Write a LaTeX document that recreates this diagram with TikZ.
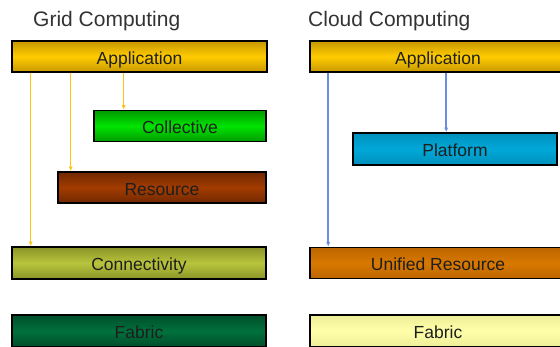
\documentclass[tikz,border=0pt]{standalone}
\usepackage{fontspec}
\setmainfont{Liberation Sans}
\usetikzlibrary{arrows.meta}
\definecolor{txt}{HTML}{1E1E1E}
\definecolor{ttl}{HTML}{333333}
\definecolor{appM}{HTML}{FFCC00}\definecolor{appD}{HTML}{C89800}
\definecolor{colM}{HTML}{00E400}\definecolor{colD}{HTML}{009A00}
\definecolor{resM}{HTML}{A33C00}\definecolor{resD}{HTML}{702800}
\definecolor{conM}{HTML}{B8C43C}\definecolor{conD}{HTML}{8A9428}
\definecolor{gfaM}{HTML}{00703C}\definecolor{gfaD}{HTML}{004E2A}
\definecolor{plaM}{HTML}{00A8D8}\definecolor{plaD}{HTML}{0090BC}
\definecolor{uniM}{HTML}{D87800}\definecolor{uniD}{HTML}{BC6600}
\definecolor{cfaM}{HTML}{FFFFAA}\definecolor{cfaD}{HTML}{EEEE99}
\definecolor{garr}{HTML}{FFC20E}
\definecolor{carr}{HTML}{6A8EE0}
\tikzset{
  layer/.style n args={2}{draw=black, line width=1.6pt, inner sep=0pt,
    top color=#2, bottom color=#2, middle color=#1,
    text=txt, font=\fontsize{17.5}{20}\selectfont, minimum height=31pt,
    text height=16pt, text depth=0pt},
  ttlstyle/.style={anchor=base west, inner sep=0pt, text=ttl, font=\fontsize{21}{24}\selectfont},
  garrow/.style={draw=garr, line width=1.5pt, -{Latex[length=4.5pt,width=4pt]}},
  carrow/.style={draw=carr, line width=1.5pt, -{Latex[length=4.5pt,width=4pt]}},
}
\begin{document}
\begin{tikzpicture}[x=1pt,y=-1pt]
\useasboundingbox[fill=white] (0,0) rectangle (560,347);
% titles
\node[ttlstyle] (tg) at (33,27) {Grid Computing};
\node[ttlstyle] (tc) at (308,27) {Cloud Computing};
% grid stack
\node[layer={appM}{appD}, minimum width=255pt] (gapp) at (139.5,56.5) {Application};
\node[layer={colM}{colD}, minimum width=172pt] (gcol) at (180,126) {Collective};
\node[layer={resM}{resD}, minimum width=208pt] (gres) at (162,187.5) {Resource};
\node[layer={conM}{conD}, minimum width=254pt, minimum height=32pt] (gcon) at (139,263) {Connectivity};
\node[layer={gfaM}{gfaD}, minimum width=254pt, minimum height=32pt] (gfab) at (139,331) {Fabric};
% cloud stack
\node[layer={appM}{appD}, minimum width=256pt] (capp) at (438,56.5) {Application};
\node[layer={plaM}{plaD}, minimum width=204pt, minimum height=32pt] (cpla) at (455,149) {Platform};
\node[layer={uniM}{uniD}, minimum width=256pt, minimum height=31pt] (cuni) at (438,263) {Unified Resource};
\node[layer={cfaM}{cfaD}, minimum width=256pt, minimum height=32pt] (cfab) at (438,331) {Fabric};
% grid arrows
\draw[garrow] ([xshift=19.5pt]gapp.south west) -- ([xshift=19.5pt]gapp.south west |- gcon.north);
\draw[garrow] ([xshift=59.5pt]gapp.south west) -- ([xshift=59.5pt]gapp.south west |- gres.north);
\draw[garrow] ([xshift=112.5pt]gapp.south west) -- ([xshift=112.5pt]gapp.south west |- gcol.north);
% cloud arrows
\draw[carrow] ([xshift=19pt]capp.south west) -- ([xshift=19pt]capp.south west |- cuni.north);
\draw[carrow] ([xshift=137pt]capp.south west) -- ([xshift=137pt]capp.south west |- cpla.north);
\end{tikzpicture}
\end{document}
